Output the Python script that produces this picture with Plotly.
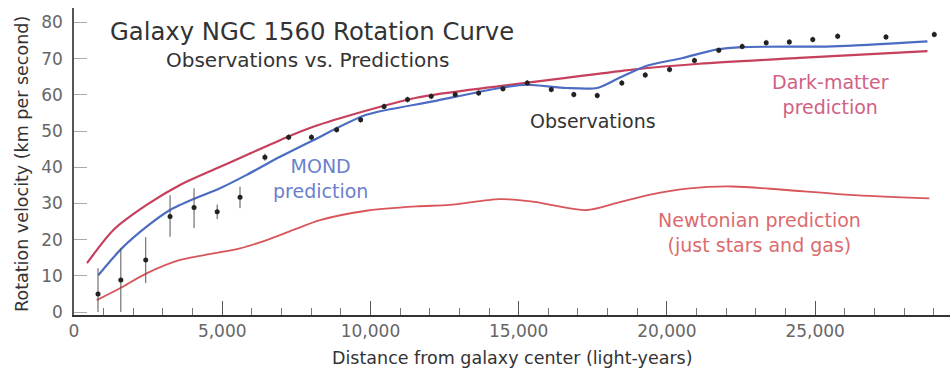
import plotly.graph_objects as go

# ---- data ----
obs_x = [810, 1580, 2420, 3240, 4050, 4830, 5600, 6440, 7240, 8010, 8860, 9670,
         10460, 11250, 12050, 12860, 13650, 14470, 15290, 16100, 16860, 17650,
         18480, 19270, 20090, 20930, 21750, 22540, 23350, 24130, 24920, 25760,
         27390, 29020]
obs_y = [5.0, 8.9, 14.4, 26.4, 28.9, 27.7, 31.7, 42.8, 48.3, 48.3, 50.4, 53.1,
         56.8, 58.7, 59.6, 60.1, 60.5, 61.7, 63.3, 61.5, 60.1, 59.8,
         63.3, 65.5, 67.0, 69.5, 72.3, 73.4, 74.4, 74.6, 75.3, 76.2,
         76.0, 76.7]
err_up = [7.1, 8.7, 6.3, 5.9, 5.3, 2.0, 2.9, 1.0, 0.8, 0.8, 0.8, 0.8,
          0.8, 0.8, 0.8, 0.8, 0.8, 0.8, 0.8, 0.8, 0.8, 0.8,
          0.8, 0.8, 0.8, 0.8, 0.8, 0.8, 0.8, 0.8, 0.8, 0.8,
          0.8, 0.8]
err_dn = [5.0, 8.9, 6.4, 5.6, 5.7, 2.0, 3.0, 1.0, 0.8, 0.8, 0.8, 0.8,
          0.8, 0.8, 0.8, 0.8, 0.8, 0.8, 0.8, 0.8, 0.8, 0.8,
          0.8, 0.8, 0.8, 0.8, 0.8, 0.8, 0.8, 0.8, 0.8, 0.8,
          0.8, 0.8]

dm_x = [440, 1330, 2450, 3575, 4700, 5825, 6950, 8070, 11550, 14360, 16600,
        18850, 21100, 24470, 28790]
dm_y = [13.5, 22.7, 29.6, 35.1, 39.3, 43.4, 47.5, 51.2, 59.2, 62.4, 64.7,
        67.0, 68.6, 70.2, 72.1]

mond_x = [820, 1610, 2450, 3240, 4080, 4925, 5825, 6950, 8070, 9860, 12110,
          14360, 15260, 16600, 17650, 18400, 19300, 20530, 21660, 22550,
          25590, 28790]
mond_y = [10.2, 17.6, 23.6, 28.2, 31.4, 34.2, 37.9, 42.9, 47.5, 54.5, 58.2,
          61.9, 62.8, 61.9, 61.9, 64.7, 68.0, 70.2, 72.5, 73.2,
          73.4, 74.8]

newt_x = [765, 1550, 2450, 3575, 4700, 5600, 6500, 7400, 8300, 9860, 11550,
          12680, 14360, 15480, 16040, 17300, 18290, 19400, 20760, 22220,
          23900, 26150, 28850]
newt_y = [3.3, 6.6, 10.7, 14.4, 16.2, 17.6, 19.9, 22.7, 25.4, 28.0, 29.2,
          29.6, 31.2, 30.5, 29.7, 28.2, 30.1, 32.4, 34.2, 34.7,
          33.8, 32.4, 31.4]

y_ticks = [0, 10, 20, 30, 40, 50, 60, 70, 80]
x_ticks = [0, 5000, 10000, 15000, 20000, 25000]
x_tick_labels = ["0", "5,000", "10,000", "15,000", "20,000", "25,000"]

FONT = "DejaVu Sans"

fig = go.Figure()

fig.add_trace(go.Scatter(x=newt_x, y=newt_y, mode="lines",
                         line=dict(color="#d8555a", width=1.8, shape="spline", smoothing=0.8),
                         hoverinfo="skip", showlegend=False))
fig.add_trace(go.Scatter(x=dm_x, y=dm_y, mode="lines",
                         line=dict(color="#c63f5c", width=2.2, shape="spline", smoothing=0.8),
                         hoverinfo="skip", showlegend=False))
fig.add_trace(go.Scatter(x=mond_x, y=mond_y, mode="lines",
                         line=dict(color="#4b6cc2", width=2.2, shape="spline", smoothing=0.7),
                         hoverinfo="skip", showlegend=False))
fig.add_trace(go.Scatter(x=obs_x, y=obs_y, mode="markers",
                         marker=dict(color="#222222", size=5),
                         error_y=dict(type="data", symmetric=False, array=err_up,
                                      arrayminus=err_dn, color="#555555",
                                      thickness=1, width=0),
                         showlegend=False))

ann = []
ann.append(dict(text="Galaxy NGC 1560 Rotation Curve", xref="paper", yref="paper",
                x=0.0388, y=0.925, xanchor="left", yanchor="middle", showarrow=False,
                font=dict(family=FONT, size=24.3, color="#333333")))
ann.append(dict(text="Observations vs. Predictions", xref="paper", yref="paper",
                x=0.266, y=0.83, xanchor="center", yanchor="middle", showarrow=False,
                font=dict(family=FONT, size=20, color="#333333")))
ann.append(dict(text="MOND<br>prediction", xref="paper", yref="paper",
                x=0.281, y=0.445, xanchor="center", yanchor="middle", showarrow=False,
                font=dict(family=FONT, size=19, color="#6b7fcc")))
ann.append(dict(text="Observations", xref="paper", yref="paper",
                x=0.592, y=0.632, xanchor="center", yanchor="middle", showarrow=False,
                font=dict(family=FONT, size=19, color="#333333")))
ann.append(dict(text="Dark-matter<br>prediction", xref="paper", yref="paper",
                x=0.864, y=0.717, xanchor="center", yanchor="middle", showarrow=False,
                font=dict(family=FONT, size=19, color="#cf6184")))
ann.append(dict(text="Newtonian prediction<br>(just stars and gas)", xref="paper", yref="paper",
                x=0.783, y=0.270, xanchor="center", yanchor="middle", showarrow=False,
                font=dict(family=FONT, size=19, color="#db6b6e")))
ann.append(dict(text="Rotation velocity (km per second)", xref="paper", yref="paper",
                x=-0.0594, y=0.492, xanchor="center", yanchor="middle", showarrow=False,
                textangle=-90, font=dict(family=FONT, size=17.5, color="#333333")))
ann.append(dict(text="Distance from galaxy center (light-years)", xref="paper", yref="paper",
                x=0.501, y=-0.14, xanchor="center", yanchor="middle", showarrow=False,
                font=dict(family=FONT, size=17.5, color="#333333")))

fig.update_layout(
    width=950, height=369,
    margin=dict(l=74, r=0, t=8, b=54),
    paper_bgcolor="white", plot_bgcolor="white",
    annotations=ann,
    font=dict(family=FONT),
    xaxis=dict(range=[0, 29550], tickvals=x_ticks, ticktext=x_tick_labels,
               ticks="inside", ticklen=14, tickcolor="#555555", tickwidth=1,
               minor=dict(dtick=1000, tick0=0, ticks="inside", ticklen=7,
                          tickcolor="#777777", tickwidth=1, showgrid=False),
               showline=True, linecolor="#333333", linewidth=2,
               showgrid=False, zeroline=False,
               tickfont=dict(family=FONT, size=17, color="#666666")),
    yaxis=dict(range=[-0.8, 84], tickvals=y_ticks,
               ticks="inside", ticklen=13, tickcolor="#aaaaaa", tickwidth=1,
               showline=True, linecolor="#555555", linewidth=1.5,
               showgrid=False, zeroline=False, ticklabelstandoff=6,
               tickfont=dict(family=FONT, size=17, color="#666666")),
)

fig.write_html("out.html", config={"displayModeBar": False},
               post_script="document.body.style.margin='0';document.body.style.overflow='hidden';")
